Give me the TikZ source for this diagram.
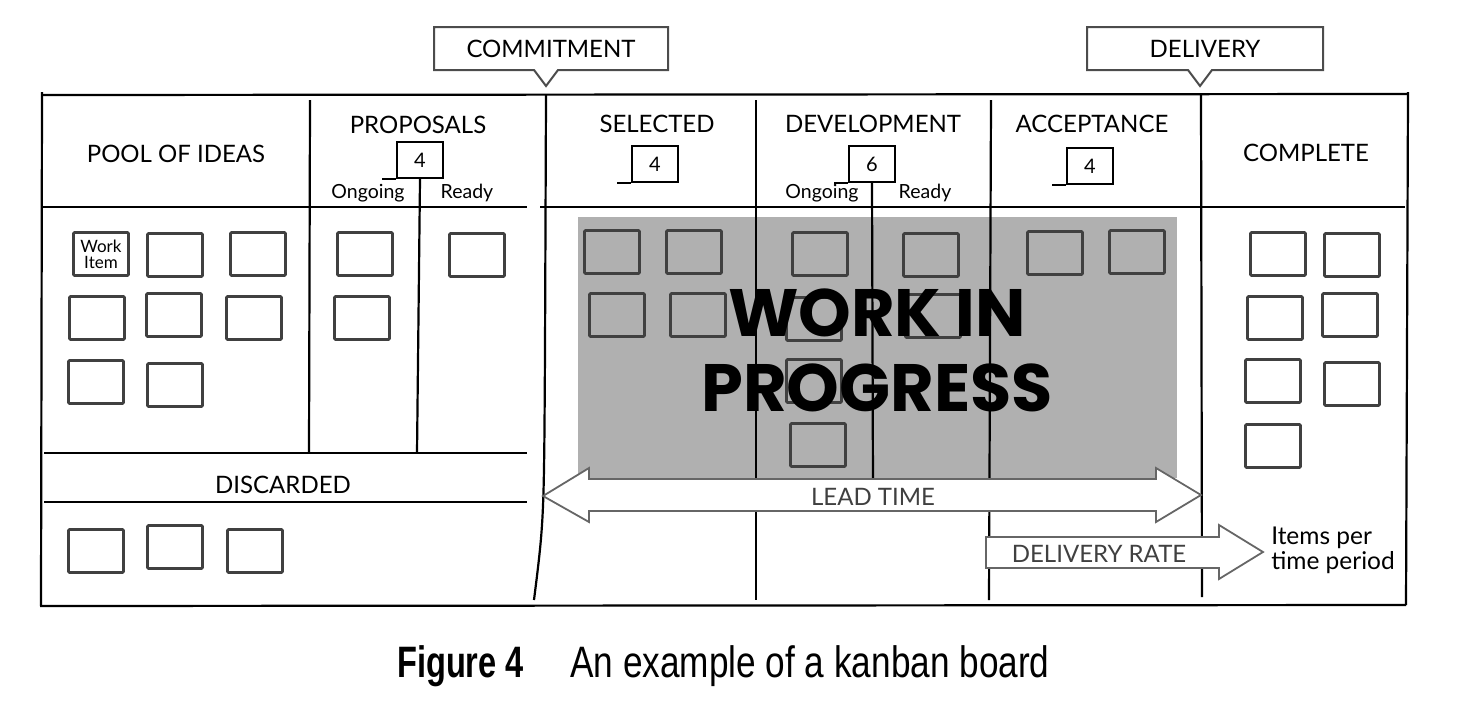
\documentclass[tikz,border=0pt]{standalone}
\usepackage{fontspec}
\setmainfont{Lato}
\newfontfamily\wipfont{Poppins}
\newfontfamily\capfont{Liberation Sans}[FakeStretch=0.8]
\newfontfamily\capbfont{Liberation Sans}[FakeStretch=0.74]
\usepackage{tikz}

\tikzset{
  board/.style={line width=2.2pt, black},
  lbl/.style={font=\fontsize{24}{26}\selectfont, inner sep=0pt},
  sub/.style={font=\fontsize{19.5}{21}\selectfont, inner sep=0pt},
  witem/.style={draw=black!75, line width=2.6pt, minimum width=55pt, minimum height=43pt, inner sep=0pt, rounded corners=1pt},
  limit/.style={draw, line width=2pt, minimum width=46pt, minimum height=36pt, inner sep=0pt, font=\fontsize{20}{20}\selectfont},
  callout/.style={draw=black!70, line width=2pt, fill=white},
  bigarrow/.style={draw=black!60, line width=1.8pt, fill=white},
}

\begin{document}
\begin{tikzpicture}[x=1pt, y=-1pt]
            \useasboundingbox (0,0) rectangle (1458,710);

            % WIP area
            \fill[black!31] (578,217) rectangle (1177,478);

            % Callouts
            \draw[callout] (434,27) -- (668,27) -- (668,70) -- (558,70) -- (546,86) -- (534,70) -- (434,70) -- cycle;
            \draw[callout] (1087,27) -- (1323,27) -- (1323,70) -- (1212,70) -- (1200,86) -- (1188,70) -- (1087,70) -- cycle;
            \node[lbl] (commit) at (551,49) {COMMITMENT};
            \node[lbl] (deliv) at (1205,49) {DELIVERY};

            % Board frame
            \draw[board] (42,95) -- (1408,94);
            \draw[board] (42,92) -- (41,606);
            \draw[board] (40,606) -- (1406,605);
            \draw[board] (1408,92) -- (1406,605);
            \draw[board, line width=1.8pt] (42,207) -- (527,207);
            \draw[board, line width=1.8pt] (540,207) -- (1405,207);
            \draw[board, line width=1.8pt] (44,453) -- (527,453);
            \draw[board, line width=1.8pt] (44,502) -- (527,502);

            % Column lines
            \draw[board] (310,100) -- (309,453);
            \draw[board] (546,95) -- (545,350) .. controls (544,520) .. (534,600);
            \draw[board] (756,100) -- (756,600);
            \draw[board] (991,100) -- (989,600);
            \draw[board] (1201,94) -- (1202,597);

            % Headers
            \node[lbl] (pool) at (176,154) {POOL OF IDEAS};
            \node[lbl] (prop) at (418,125) {PROPOSALS};
            \node[lbl] (sel) at (657,124) {SELECTED};
            \node[lbl] (dev) at (873,124) {DEVELOPMENT};
            \node[lbl] (acc) at (1092,124) {ACCEPTANCE};
            \node[lbl] (comp) at (1306,153) {COMPLETE};
            \node[lbl] (disc) at (283,485) {DISCARDED};

            % WIP limits
            \node[limit] (plim) at (420,160) {4};
            \node[limit] (slim) at (655,164) {4};
            \node[limit] (dlim) at (872,164) {6};
            \node[limit] (alim) at (1090,166) {4};
            \foreach \l in {plim, slim, dlim, alim}
                \draw[line width=2pt] (\l.south west) -- ++(-14,0);

            % Ongoing / Ready
            \draw[board] (plim.south) -- (417,453);
            \draw[board] (dlim.south) -- (873,490);
            \node[sub] (pon) at (368,193) {Ongoing};
            \node[sub] (prd) at (467,193) {Ready};
            \node[sub] (don) at (822,193) {Ongoing};
            \node[sub] (drd) at (925,193) {Ready};

            % Work items
            \node[witem, font=\fontsize{17}{16}\selectfont, align=center] (w0) at (101,254) {Work\\Item};
            \foreach \n/\x/\y in {w1/175/255, w2/258/254, w3/97/318, w4/174/315, w5/254/318, w6/96/382, w7/175/385,
                                  p1/365/254, p2/362/318, p3/477/255,
                                  d1/96/551, d2/175/547, d3/255/551,
                                  s1/612/252, s2/694/252, s3/617/315, s4/698/315,
                                  o1/820/254, o2/814/319, o3/814/381, o4/818/445, r1/931/255, r2/933/316,
                                  a1/1055/253, a2/1137/252,
                                  c1/1278/254, c2/1352/255, c3/1275/318, c4/1350/315, c5/1273/381, c6/1352/384, c7/1273/446}
                \node[witem] (\n) at (\x,\y) {};

            % Work in progress
            \node[font=\wipfont\bfseries\fontsize{67}{75}\selectfont, align=center, inner sep=0pt] (wip) at (877,350) {WORK IN\\PROGRESS};

            % Lead time
            \draw[bigarrow] (543,496) -- (589,468) -- (589,479) -- (1156,479) -- (1156,468) -- (1201,495)
                -- (1156,522) -- (1156,511) -- (589,511) -- (589,522) -- cycle;
            \node[lbl, text=black!75] (lead) at (873,497) {LEAD TIME};

            % Delivery rate
            \draw[bigarrow] (986,537) -- (1219,537) -- (1219,525) -- (1263,552) -- (1219,579) -- (1219,568) -- (986,568) -- cycle;
            \node[lbl, text=black!75] (rate) at (1099,554) {DELIVERY RATE};
            \node[font=\fontsize{24.5}{25}\selectfont, align=left, inner sep=0pt] (items) at (1333,550) {Items per\\time period};

            % Caption
            \node[anchor=base west, inner sep=0pt, font=\capbfont\bfseries\fontsize{44}{48}\selectfont] (figno) at (397,677) {Figure 4};
            \node[anchor=base west, inner sep=0pt, font=\capfont\fontsize{44}{48}\selectfont] (figtext) at (570,677) {An example of a kanban board};

        \end{tikzpicture}
\end{document}
